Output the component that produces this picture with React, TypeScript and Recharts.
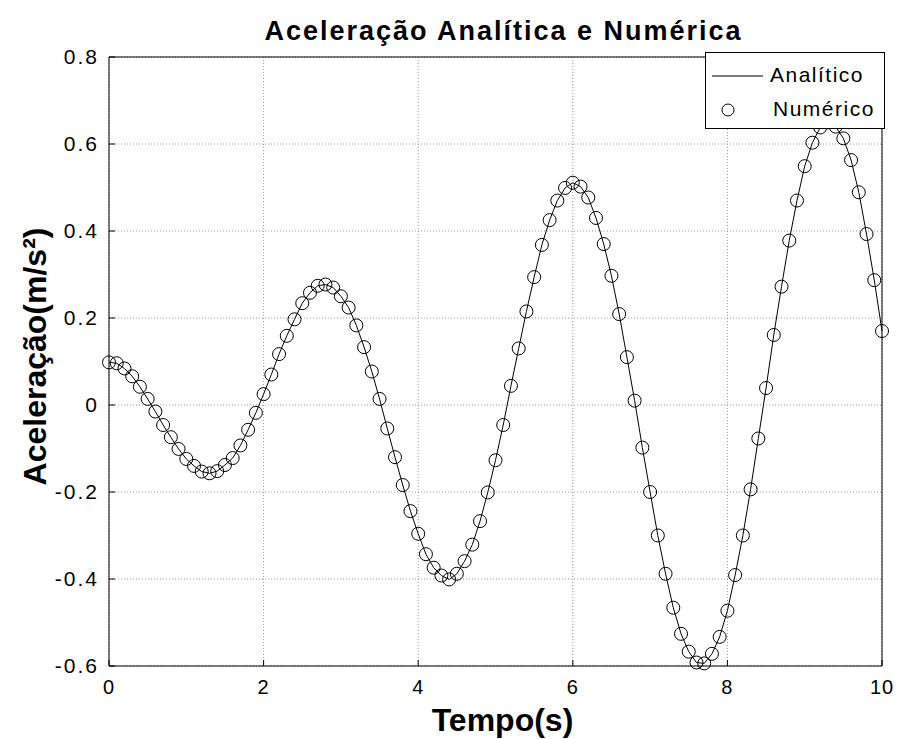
import React from 'react'
import {
  LineChart,
  Line,
  XAxis,
  YAxis,
  CartesianGrid,
  Legend,
} from 'recharts'

// tempo (s), amostrado a cada 0.1 s
const TEMPO = [
  0, 0.1, 0.2, 0.3, 0.4, 0.5, 0.6, 0.7, 0.8, 0.9,
  1, 1.1, 1.2, 1.3, 1.4, 1.5, 1.6, 1.7, 1.8, 1.9,
  2, 2.1, 2.2, 2.3, 2.4, 2.5, 2.6, 2.7, 2.8, 2.9,
  3, 3.1, 3.2, 3.3, 3.4, 3.5, 3.6, 3.7, 3.8, 3.9,
  4, 4.1, 4.2, 4.3, 4.4, 4.5, 4.6, 4.7, 4.8, 4.9,
  5, 5.1, 5.2, 5.3, 5.4, 5.5, 5.6, 5.7, 5.8, 5.9,
  6, 6.1, 6.2, 6.3, 6.4, 6.5, 6.6, 6.7, 6.8, 6.9,
  7, 7.1, 7.2, 7.3, 7.4, 7.5, 7.6, 7.7, 7.8, 7.9,
  8, 8.1, 8.2, 8.3, 8.4, 8.5, 8.6, 8.7, 8.8, 8.9,
  9, 9.1, 9.2, 9.3, 9.4, 9.5, 9.6, 9.7, 9.8, 9.9,
  10,
]

// aceleração (m/s²)
const ACELERACAO = [
  0.098, 0.096, 0.084, 0.066, 0.042, 0.014, -0.015, -0.046, -0.074, -0.101,
  -0.124, -0.14, -0.153, -0.157, -0.152, -0.138, -0.122, -0.093, -0.057, -0.018,
  0.025, 0.07, 0.117, 0.159, 0.197, 0.234, 0.258, 0.274, 0.277, 0.27,
  0.25, 0.224, 0.183, 0.133, 0.077, 0.014, -0.054, -0.12, -0.184, -0.244,
  -0.296, -0.343, -0.374, -0.392, -0.401, -0.388, -0.359, -0.321, -0.267, -0.201,
  -0.127, -0.046, 0.044, 0.13, 0.215, 0.294, 0.368, 0.425, 0.47, 0.499,
  0.511, 0.502, 0.477, 0.43, 0.37, 0.297, 0.209, 0.11, 0.01, -0.098,
  -0.2, -0.3, -0.388, -0.466, -0.526, -0.567, -0.592, -0.594, -0.572, -0.533,
  -0.473, -0.391, -0.3, -0.194, -0.077, 0.039, 0.161, 0.272, 0.378, 0.47,
  0.549, 0.603, 0.638, 0.65, 0.64, 0.613, 0.563, 0.489, 0.393, 0.287,
  0.17,
]

const X_TICKS = [0, 2, 4, 6, 8, 10]
const Y_TICKS = [-0.6, -0.4, -0.2, 0, 0.2, 0.4, 0.6, 0.8]

const FONT = "'Liberation Sans', Arial, sans-serif"

const data = TEMPO.map((t, i) => ({
  t,
  analitico: ACELERACAO[i],
  numerico: ACELERACAO[i],
}))

const fmtY = (v: number) => (v === 0 ? '0' : String(Math.round(v * 10) / 10))

function LegendBox() {
  return (
    <div style={{
      width: 178,
      height: 75,
      border: '1px solid #000',
      background: '#fff',
      fontFamily: FONT,
      fontSize: 21,
      letterSpacing: 1.5,
      color: '#000',
      position: 'relative',
    }}>
      <svg width={60} height={75} style={{ position: 'absolute', left: 0, top: 0 }}>
        <line x1={6} x2={57} y1={23} y2={23} stroke="#000" strokeWidth={1} />
        <circle cx={22} cy={57} r={6} fill="none" stroke="#000" strokeWidth={1} />
      </svg>
      <div style={{ position: 'absolute', left: 64, top: 10 }}>Analítico</div>
      <div style={{ position: 'absolute', left: 67, top: 44 }}>Numérico</div>
    </div>
  )
}

export default function App() {
  return (
    <div style={{ position: 'absolute', left: 0, top: 0, background: '#fff' }}>
      <LineChart
        width={899}
        height={739}
        data={data}
        margin={{ top: 56, right: 16, bottom: 0, left: 49 }}
      >
        <CartesianGrid stroke="#9a9a9a" strokeDasharray="1 2" />
        <XAxis
          dataKey="t"
          type="number"
          domain={[0, 10]}
          ticks={X_TICKS}
          height={73}
          stroke="#000"
          tickSize={-6}
          tickMargin={20}
          tick={{ fill: '#000', fontSize: 20, fontFamily: FONT, letterSpacing: 1 }}
          label={{
            content: ({ viewBox }: any) => (
              <text
                x={viewBox.x + viewBox.width / 2 + 7}
                y={viewBox.y + viewBox.height - 8}
                textAnchor="middle"
                fontFamily={FONT}
                fontWeight="bold"
                fontSize={32}
                fill="#000"
              >
                Tempo(s)
              </text>
            ),
          }}
        />
        <XAxis
          xAxisId="top"
          orientation="top"
          dataKey="t"
          type="number"
          domain={[0, 10]}
          ticks={X_TICKS}
          height={1}
          stroke="#000"
          tickSize={-6}
          tick={false}
          label={{
            content: ({ viewBox }: any) => (
              <text
                x={viewBox.x + viewBox.width / 2 + 8}
                y={viewBox.y - 16}
                textAnchor="middle"
                fontFamily={FONT}
                fontWeight="bold"
                fontSize={27}
                letterSpacing={2}
                fill="#000"
              >
                Aceleração Analítica e Numérica
              </text>
            ),
          }}
        />
        <YAxis
          type="number"
          domain={[-0.6, 0.8]}
          ticks={Y_TICKS}
          width={60}
          stroke="#000"
          tickSize={-6}
          tickMargin={16}
          tickFormatter={fmtY}
          tick={{ fill: '#000', fontSize: 21, fontFamily: FONT, letterSpacing: 2 }}
          label={{
            content: ({ viewBox }: any) => {
              const bx = viewBox.x - 3
              const cy = viewBox.y + viewBox.height / 2 - 5
              return (
                <text
                  x={bx}
                  y={cy}
                  transform={`rotate(-90, ${bx}, ${cy})`}
                  textAnchor="middle"
                  fontFamily={FONT}
                  fontWeight="bold"
                  fontSize={32}
                  fill="#000"
                >
                  Aceleração(m/s²)
                </text>
              )
            },
          }}
        />
        <YAxis
          yAxisId="right"
          orientation="right"
          type="number"
          domain={[-0.6, 0.8]}
          ticks={Y_TICKS}
          width={1}
          stroke="#000"
          tickSize={-6}
          tick={false}
        />
        <Legend
          layout="horizontal"
          align="center"
          verticalAlign="middle"
          wrapperStyle={{ left: 705, top: 52, width: 180, height: 77 }}
          content={() => <LegendBox />}
        />
        <Line
          name="Analítico"
          dataKey="analitico"
          type="linear"
          stroke="#000"
          strokeWidth={1}
          dot={false}
          activeDot={false}
          isAnimationActive={false}
        />
        <Line
          name="Numérico"
          dataKey="numerico"
          xAxisId="top"
          yAxisId="right"
          type="linear"
          stroke="none"
          dot={{ r: 6.5, fill: 'none', stroke: '#000', strokeWidth: 1 }}
          activeDot={false}
          isAnimationActive={false}
        />
      </LineChart>
    </div>
  )
}
